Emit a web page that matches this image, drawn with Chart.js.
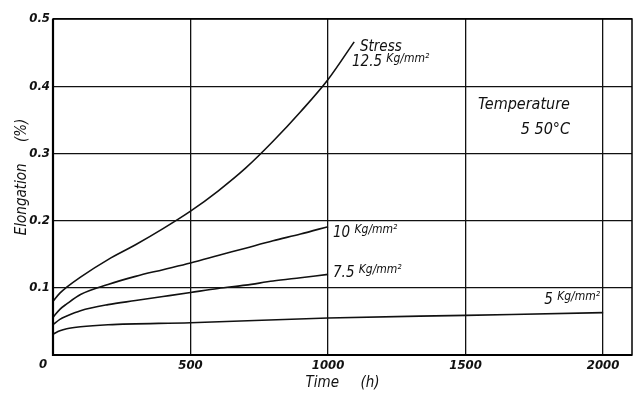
<!DOCTYPE html>
<html>
<head>
<meta charset="utf-8">
<script src="https://cdn.jsdelivr.net/npm/chart.js@4/dist/chart.umd.min.js"></script>
<style>
    html, body { margin: 0; padding: 0; background: #fff; }
    #wrap { width: 636px; height: 395px; }
</style>
</head>
<body>
<div id="wrap"><canvas id="graphique"></canvas></div>
<script>
// valeurs (temps en h, allongement en %)
const temps125 = [0, 25, 50, 100, 200, 300, 400, 500, 600, 700, 800, 900, 1000, 1095];
const stress125 = [0.080, 0.092, 0.101, 0.116, 0.142, 0.164, 0.188, 0.214, 0.244, 0.278, 0.318, 0.362, 0.410, 0.466];

const temps10 = [0, 25, 50, 100, 200, 300, 400, 500, 600, 700, 800, 900, 1000];
const stress10 = [0.056, 0.068, 0.076, 0.090, 0.105, 0.117, 0.127, 0.137, 0.148, 0.159, 0.170, 0.180, 0.191];

const temps75 = [0, 25, 50, 100, 200, 300, 400, 500, 600, 700, 800, 900, 1000];
const stress75 = [0.045, 0.053, 0.058, 0.066, 0.075, 0.081, 0.087, 0.093, 0.099, 0.104, 0.110, 0.115, 0.120];

const temps5 = [0, 25, 50, 100, 200, 500, 1000, 1500, 2000];
const stress5 = [0.031, 0.036, 0.039, 0.042, 0.045, 0.048, 0.055, 0.059, 0.063];

const ticksX = [0, 500, 1000, 1500, 2000];
const ticksY = [0, 0.1, 0.2, 0.3, 0.4, 0.5];

// textes posés sur le graphique : [x, y, texte, unité, taille, alignement]
const etiquettes = [
    [1116, 0.458, 'Stress', '', 15, 'left'],
    [1087, 0.436, '12.5 ', 'Kg/mm²', 15, 'left'],
    [1545, 0.372, 'Temperature', '', 16, 'left'],
    [1880, 0.335, '5 50°C', '', 16, 'right'],
    [1018, 0.182, '10 ', 'Kg/mm²', 15, 'left'],
    [1018, 0.122, '7.5 ', 'Kg/mm²', 15, 'left'],
    [1989, 0.082, '5 ', 'Kg/mm²', 15, 'right']
];

const police = '"DejaVu Sans Condensed", "Liberation Sans Narrow", "Liberation Sans", sans-serif';

function points(xs, ys) {
    return xs.map((x, i) => ({x: x, y: ys[i]}));
}

function serie(label, xs, ys) {
    return {
        label: label,
        data: points(xs, ys),
        borderColor: '#111',
        borderWidth: 1.6,
        pointRadius: 0,
        fill: false,
        cubicInterpolationMode: 'monotone'
    };
}

const pluginCadre = {
    id: 'cadre',
    afterDatasetsDraw(chart) {
        const ctx = chart.ctx;
        const a = chart.chartArea;
        const sx = chart.scales.x;
        const sy = chart.scales.y;
        ctx.save();
        ctx.strokeStyle = '#000';
        ctx.lineWidth = 1.5;
        ctx.strokeRect(a.left, a.top, a.right - a.left, a.bottom - a.top);
        ctx.lineWidth = 2.2;
        ctx.beginPath();
        ctx.moveTo(a.left, a.top);
        ctx.lineTo(a.left, a.bottom);
        ctx.lineTo(a.right, a.bottom);
        ctx.stroke();

        ctx.fillStyle = '#111';
        ctx.textBaseline = 'middle';
        etiquettes.forEach(e => {
            const fGrand = 'italic ' + e[4] + 'px ' + police;
            const fPetit = 'italic 12px ' + police;
            ctx.font = fGrand;
            const w1 = ctx.measureText(e[2]).width;
            ctx.font = fPetit;
            const w2 = ctx.measureText(e[3]).width;
            let x = sx.getPixelForValue(e[0]);
            const y = sy.getPixelForValue(e[1]);
            if (e[5] === 'right') x -= w1 + w2;
            ctx.textAlign = 'left';
            ctx.font = fGrand;
            ctx.fillText(e[2], x, y);
            ctx.font = fPetit;
            ctx.fillText(e[3], x + w1, y - 3);
        });

        // titres des axes et le "0" du coin
        ctx.textAlign = 'center';
        ctx.font = 'italic 15px ' + police;
        ctx.fillText('Time     (h)', (a.left + a.right) / 2, a.bottom + 28);
        ctx.save();
        ctx.translate(22, sy.getPixelForValue(0.265));
        ctx.rotate(-Math.PI / 2);
        ctx.fillText('Elongation     (%)', 0, 0);
        ctx.restore();
        ctx.font = 'italic bold 13px ' + police;
        ctx.fillText('0', a.left - 10, a.bottom + 10);
        ctx.restore();
    }
};

const ctx = document.getElementById('graphique').getContext('2d');
new Chart(ctx, {
    type: 'line',
    data: {
        datasets: [
            serie('12.5', temps125, stress125),
            serie('10', temps10, stress10),
            serie('7.5', temps75, stress75),
            serie('5', temps5, stress5)
        ]
    },
    options: {
        responsive: true,
        maintainAspectRatio: false,
        animation: false,
        layout: {padding: {top: 19, right: 4, left: 0, bottom: 0}},
        plugins: {
            legend: {display: false},
            tooltip: {enabled: false}
        },
        scales: {
            x: {
                type: 'linear',
                min: 0,
                max: 2105,
                afterBuildTicks: (axis) => {
                    axis.ticks = ticksX.map(v => ({value: v}));
                },
                afterFit: (axis) => {
                    axis.height = 40;
                },
                grid: {color: '#111', lineWidth: 1.3, drawTicks: false},
                border: {display: false},
                ticks: {
                    color: '#111',
                    padding: 3,
                    maxRotation: 0,
                    autoSkip: false,
                    callback: (v) => v === 0 ? '' : String(v),
                    font: {family: police, size: 13, style: 'italic', weight: 'bold'}
                }
            },
            y: {
                type: 'linear',
                min: 0,
                max: 0.5,
                afterBuildTicks: (axis) => {
                    axis.ticks = ticksY.map(v => ({value: v}));
                },
                afterFit: (axis) => {
                    axis.width = 53;
                },
                grid: {color: '#111', lineWidth: 1.3, drawTicks: false},
                border: {display: false},
                ticks: {
                    color: '#111',
                    padding: 3,
                    callback: (v) => v === 0 ? '' : String(Math.round(v * 10) / 10),
                    font: {family: police, size: 13, style: 'italic', weight: 'bold'}
                }
            }
        }
    },
    plugins: [pluginCadre]
});
</script>
</body>
</html>
